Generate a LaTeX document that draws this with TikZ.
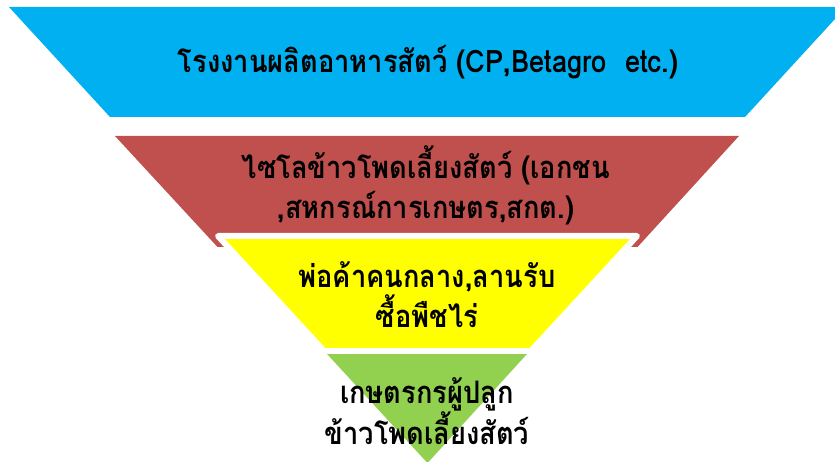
\documentclass[tikz,border=0pt]{standalone}
\usepackage{fontspec}
\newfontfamily\thaifont[Script=Thai,FakeStretch=0.88]{Loma}
\definecolor{cblue}{HTML}{00B0F0}
\definecolor{cred}{HTML}{C0504D}
\definecolor{cyellow}{HTML}{FFFF00}
\definecolor{cgreen}{HTML}{92D050}
\tikzset{
  lbl/.style={align=center,font=\thaifont\bfseries\fontsize{31}{40}\selectfont,text=black,inner sep=0pt},
}
\begin{document}
\begin{tikzpicture}[x=1pt,y=1pt]
\useasboundingbox (0,0) rectangle (835,461);
\clip (0,0) rectangle (835,461);
\fill[white] (0,0) rectangle (835,461);
\fill[cblue] (9,454) -- (846,454) -- (745,344) -- (110,344) -- cycle;
\fill[cred] (115,325) -- (739,325) -- (637.5,214) -- (217.5,214) -- cycle;
\filldraw[fill=cyellow,draw=white,line width=6pt,line join=round] (218,225) -- (637,225) -- (531,110) -- (324,110) -- cycle;
\fill[cgreen] (327,107) -- (527,107) -- (427.5,-2) -- cycle;
\node[lbl] (t1) at (428,399) {โรงงานผลิตอาหารสัตว์ (CP,Betagro\ \ etc.)};
\node[lbl] (t2) at (426,276) {ไซโลข้าวโพดเลี้ยงสัตว์ (เอกชน\\,สหกรณ์การเกษตร,สกต.)};
\node[lbl] (t3) at (427,166) {พ่อค้าคนกลาง,ลานรับ\\ซื้อพืชไร่};
\node[lbl] (t4) at (427,50) {เกษตรกรผู้ปลูก\\ข้าวโพดเลี้ยงสัตว์};
\end{tikzpicture}
\end{document}
